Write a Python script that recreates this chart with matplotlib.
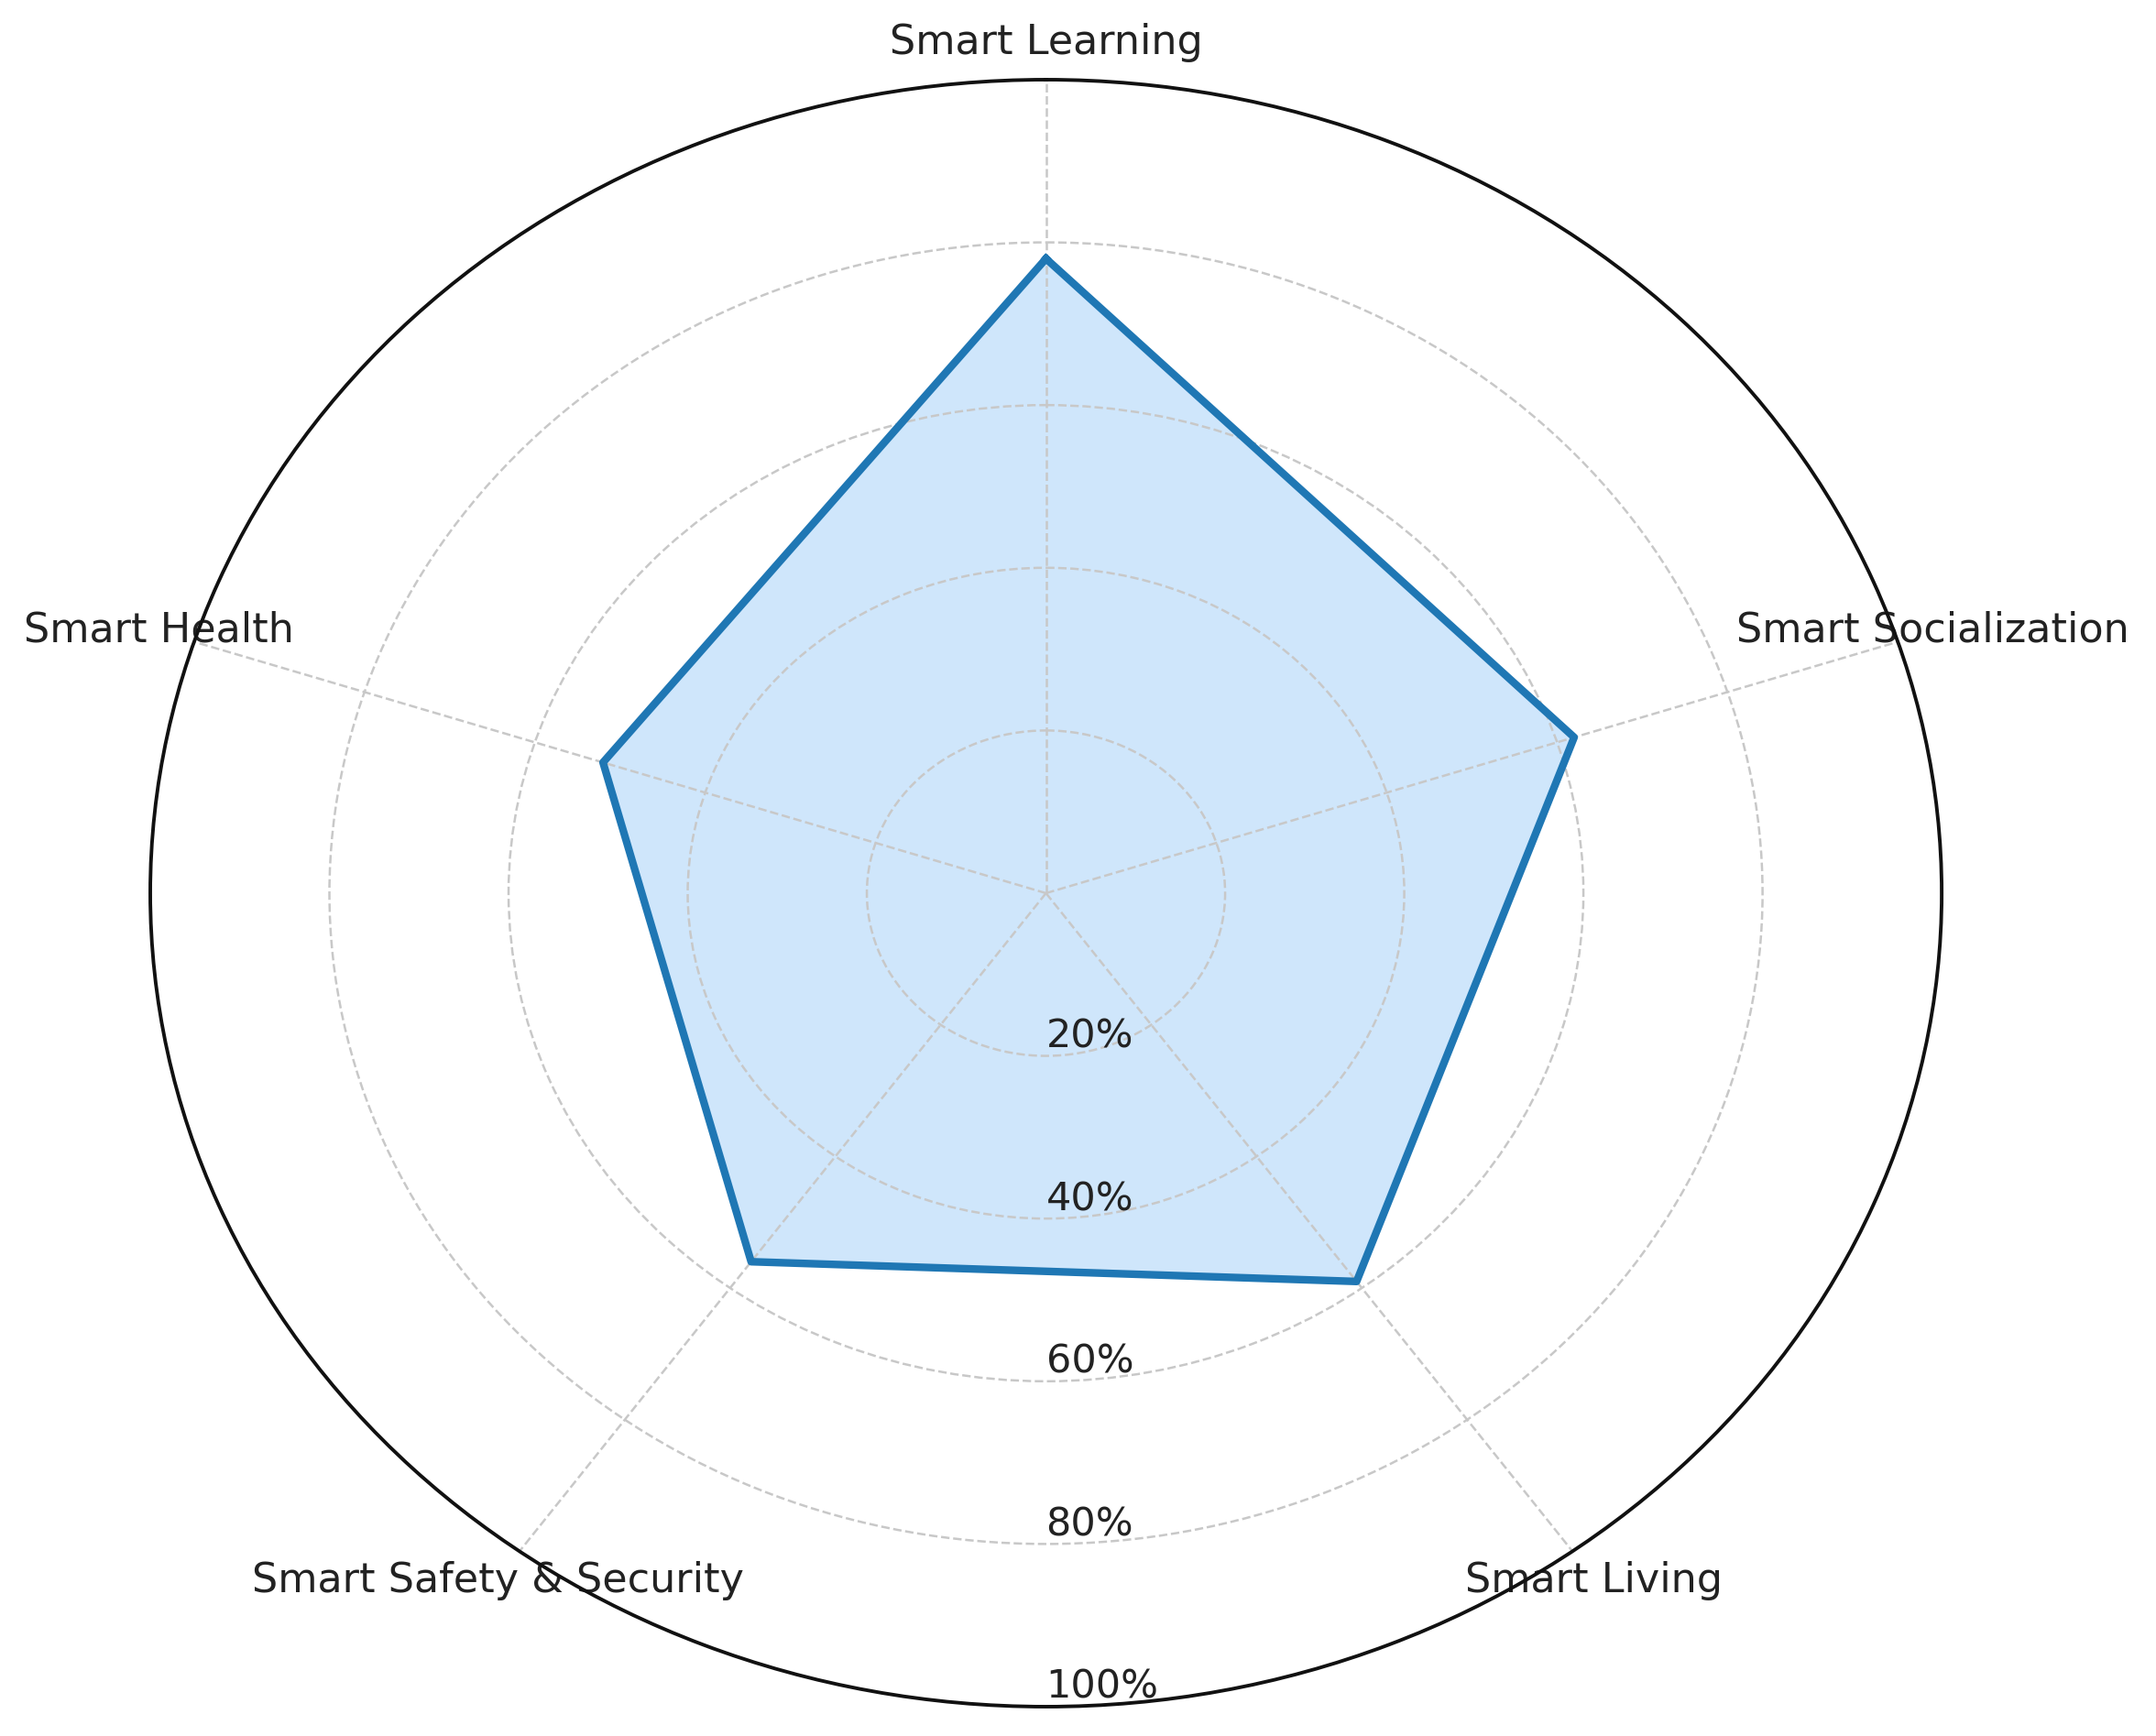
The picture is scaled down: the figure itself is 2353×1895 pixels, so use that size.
import matplotlib.pyplot as plt
import numpy as np

categories = ["Smart Learning", "Smart Socialization", "Smart Living",
              "Smart Safety & Security", "Smart Health"]
values = [78, 62, 59, 56, 52]
r_ticks = [20, 40, 60, 80, 100]
r_labels = ["20%", "40%", "60%", "80%", "100%"]

n = len(categories)
angles = np.linspace(0, 2 * np.pi, n, endpoint=False).tolist()
vals = values + values[:1]
angs = angles + angles[:1]

fig = plt.figure(figsize=(11.765, 9.475), dpi=200)
ax = fig.add_axes([0.0697, 0.0169, 0.8309, 0.9372], projection="polar")
ax.set_aspect("auto")
ax.set_theta_offset(np.pi / 2)
ax.set_theta_direction(-1)

# fill under the grid so the dashed rings show through
ax.fill(angs, vals, color="#cfe6fb", zorder=1)
ax.plot(angs, vals, color="#1f77b4", linewidth=3.0, zorder=3)

ax.set_xticks(angles)
ax.set_xticklabels(categories, fontsize=16, color="#222222")
ax.tick_params(axis="x", pad=4)
ax.set_ylim(0, 100)
ax.set_yticks(r_ticks)
ax.set_yticklabels(r_labels, fontsize=15.5, color="#222222")
ax.set_rlabel_position(180)
ax.grid(linestyle="--", color="#c8c8c8", linewidth=0.9, zorder=2)
ax.spines["polar"].set_linewidth(1.4)
ax.spines["polar"].set_color("#111111")

fig.savefig("out.png", dpi=200)
